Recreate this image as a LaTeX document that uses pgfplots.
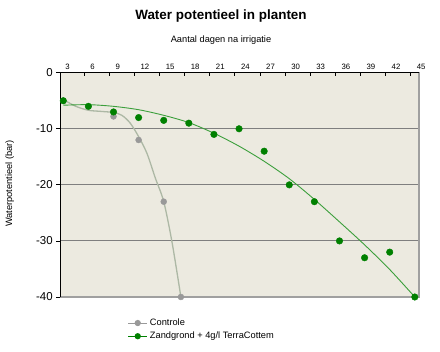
\documentclass[border=0pt]{standalone}
\usepackage{pgfplots}
\pgfplotsset{compat=1.18}
\usepackage{fontspec}
\setmainfont{Liberation Sans}
\definecolor{bg}{HTML}{ECEAE0}
\definecolor{gridgray}{HTML}{7F7F7F}
\definecolor{bordergray}{HTML}{A0A0A0}
\definecolor{ptgreen}{HTML}{008000}
\definecolor{lngreen}{HTML}{3C9F3C}
\definecolor{ptgray}{HTML}{999999}
\definecolor{lngray}{HTML}{ADB8A5}
\begin{document}
\begin{tikzpicture}
\path[use as bounding box] (0,0) rectangle (440bp,352bp);
\node[font=\bfseries\fontsize{13.5}{16}\selectfont] at (221bp,336bp) {Water potentieel in planten};
\node[font=\fontsize{9.3}{11}\selectfont] at (221bp,311.5bp) {Aantal dagen na irrigatie};
\node[font=\fontsize{9.3}{11}\selectfont, rotate=90] at (9.7bp,168.5bp) {Waterpotentieel (bar)};
\begin{axis}[
  at={(60.7bp,55bp)}, anchor=south west,
  width=358.3bp, height=224.3bp, scale only axis,
  xmin=2.69, xmax=45.5, ymin=-40, ymax=0,
  clip=false,
  axis background/.style={fill=bg},
  axis line style={draw=bordergray, line width=1.2bp},
  /pgf/number format/assume math mode=true,
  xtick={3,6,...,45},
  xticklabel pos=right,
  xtick pos=right,
  xtick style={draw=none},
  xticklabel style={font=\fontsize{7.8}{9}\selectfont, anchor=south west, xshift=-1.5bp, inner ysep=2.5bp},
  extra x ticks={5.5,8.5,...,44.5},
  extra x tick labels={},
  extra x tick style={xtick style={draw=black, line width=0.8bp}, major tick length=3bp, xtick align=inside},
  ytick={-40,-30,-20,-10,0},
  ytick pos=left,
  ytick align=outside,
  major tick length=4.5bp,
  ytick style={draw=black, line width=0.8bp},
  yticklabel style={font=\fontsize{11.5}{13}\selectfont},
  ymajorgrids,
  grid style={gridgray, line width=0.9bp},
  legend style={at={(0.186,-0.088)}, anchor=north west, draw=none, fill=none,
    font=\fontsize{9.3}{11}\selectfont, row sep=1bp, inner sep=0pt},
  legend cell align=left,
  legend image code/.code={\draw[mark repeat=2, mark phase=2] plot coordinates {(0bp,0bp) (9.7bp,0bp) (19.4bp,0bp)};},
]
\draw[black, line width=0.8bp] (rel axis cs:0,0) -- (rel axis cs:0,1) -- (rel axis cs:1,1);
\addlegendimage{color=ptgray, line width=1bp, mark=*, mark size=2.6bp, mark options={fill=ptgray, draw=ptgray}}
\addlegendentry{Controle}
\addlegendimage{color=ptgreen, line width=1bp, mark=*, mark size=2.6bp, mark options={fill=ptgreen, draw=ptgreen}}
\addlegendentry{Zandgrond + 4g/l TerraCottem}
% Controle trend curve
\addplot[color=lngray, line width=1.3bp, smooth, forget plot] coordinates {
 (3,-4.8) (4.5,-6.0) (6,-6.7) (7.5,-6.9) (9,-7.1) (10,-7.6) (11,-9.0) (12,-11.4)
 (13,-14.4) (14,-18.8) (15,-23) (16,-30.3) (17.05,-40)};
% Controle points
\addplot[only marks, mark=*, mark size=3bp, color=ptgray, forget plot] coordinates {
 (3,-5) (9,-7.8) (12,-12) (15,-23) (17.05,-40)};
% Zandgrond trend curve
\addplot[color=lngreen, line width=0.9bp, smooth, forget plot] coordinates {
 (3,-5.8) (6,-5.7) (9,-6.0) (12,-6.6) (15,-7.6) (18,-8.9) (21,-10.8) (24,-13.1)
 (27,-15.8) (30,-18.9) (33,-22.6) (36,-26.6) (39,-30.7) (42,-35.1) (45,-40)};
% Zandgrond points
\addplot[only marks, mark=*, mark size=3.3bp, color=ptgreen, forget plot] coordinates {
 (3,-5) (6,-6) (9,-7) (12,-8) (15,-8.5) (18,-9) (21,-11) (24,-10) (27,-14)
 (30,-20) (33,-23) (36,-30) (39,-33) (42,-32) (45,-40)};
\end{axis}
\end{tikzpicture}
\end{document}
